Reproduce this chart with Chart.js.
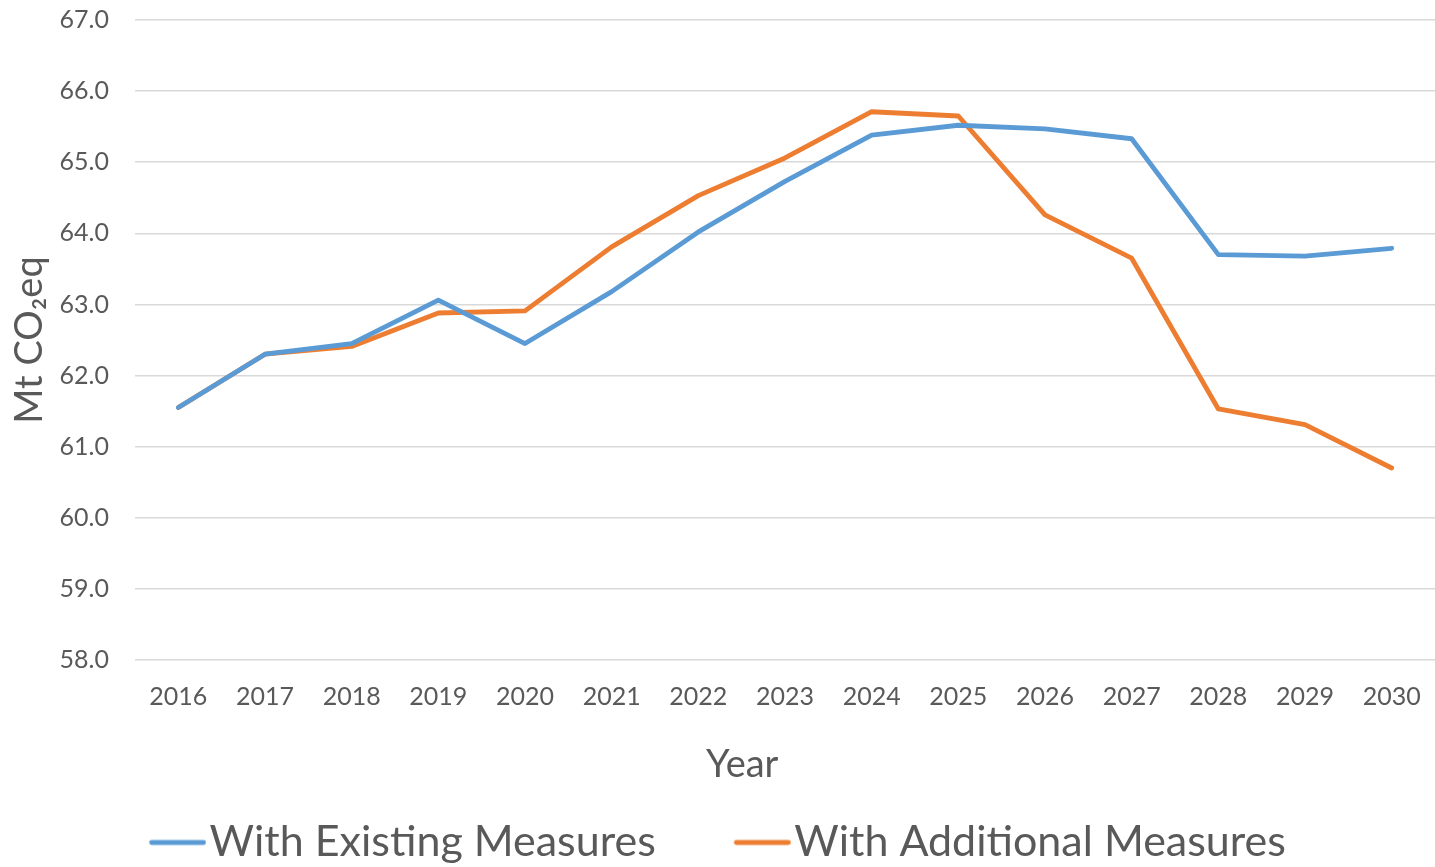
<!DOCTYPE html>
<html>
<head>
<meta charset="utf-8">
<script src="https://cdn.jsdelivr.net/npm/chart.js@4.4.1/dist/chart.umd.min.js"></script>
<style>
  html, body { margin: 0; padding: 0; background: #ffffff; }
  #wrap { width: 1435px; height: 867px; }
</style>
</head>
<body>
<div id="wrap"><canvas id="c" width="1435" height="867"></canvas></div>
<script>
// ---- data ----
const years = ['2016','2017','2018','2019','2020','2021','2022','2023','2024','2025','2026','2027','2028','2029','2030'];
const withExisting   = [61.55, 62.30, 62.45, 63.06, 62.45, 63.18, 64.02, 64.73, 65.38, 65.52, 65.47, 65.33, 63.70, 63.68, 63.79];
const withAdditional = [61.55, 62.30, 62.41, 62.88, 62.91, 63.81, 64.53, 65.06, 65.71, 65.65, 64.26, 63.65, 61.53, 61.31, 60.70];
const seriesNames = ['With Existing Measures', 'With Additional Measures'];
const seriesColors = ['#5b9bd5', '#ed7d31'];
const yMin = 58, yMax = 67, yStep = 1;
const xTitle = 'Year';
const yTitle = 'Mt CO\u2082eq';

const FONT = 'Lato, "Open Sans", "Noto Sans", sans-serif';
const TEXT = '#595959';
const LINE_W = 4.8;

// legend glyph: a short line, drawn into a small canvas used as point style
function legendGlyph(color) {
  const cv = document.createElement('canvas');
  cv.width = 75; cv.height = 8;
  const g = cv.getContext('2d');
  g.strokeStyle = color;
  g.lineWidth = LINE_W;
  g.lineCap = 'round';
  g.beginPath();
  g.moveTo(20.5, 4);
  g.lineTo(72.5, 4);
  g.stroke();
  return cv;
}
const glyphs = seriesColors.map(legendGlyph);

const LEG_FONT = 43, LEG_PAD = 78;

new Chart(document.getElementById('c'), {
  type: 'line',
  data: {
    labels: years,
    datasets: [
      { label: seriesNames[0], data: withExisting, borderColor: seriesColors[0], backgroundColor: seriesColors[0],
        borderWidth: LINE_W, pointRadius: 0, pointHoverRadius: 0, tension: 0, borderJoinStyle: 'round', borderCapStyle: 'round' },
      { label: seriesNames[1], data: withAdditional, borderColor: seriesColors[1], backgroundColor: seriesColors[1],
        borderWidth: LINE_W, pointRadius: 0, pointHoverRadius: 0, tension: 0, borderJoinStyle: 'round', borderCapStyle: 'round' }
    ]
  },
  options: {
    responsive: false,
    animation: false,
    devicePixelRatio: 1,
    layout: { padding: { top: 20, left: 0, right: 0, bottom: -7 } },
    plugins: {
      tooltip: { enabled: false },
      legend: {
        position: 'bottom',
        labels: {
          usePointStyle: true,
          pointStyleWidth: 39,
          padding: LEG_PAD,
          color: TEXT,
          font: { family: FONT, size: LEG_FONT },
          generateLabels(chart) {
            const items = Chart.defaults.plugins.legend.labels.generateLabels(chart);
            items.forEach((it) => { it.pointStyle = glyphs[it.datasetIndex]; });
            return items;
          }
        }
      }
    },
    scales: {
      x: {
        offset: true,
        border: { display: false },
        grid: { display: true, drawOnChartArea: false, drawTicks: true, tickLength: 22, tickColor: 'rgba(0,0,0,0)' },
        ticks: { color: TEXT, padding: 0, maxRotation: 0, font: { family: FONT, size: 25 } },
        title: { display: true, text: xTitle + '\u2003\u2003\u2003', color: TEXT, font: { family: FONT, size: 38, lineHeight: 1 }, padding: { top: 0, bottom: -41 } },
        afterFit(scale) { scale.height = 83; }
      },
      y: {
        min: yMin, max: yMax,
        border: { display: false },
        grid: { color: '#d9d9d9', lineWidth: 1.5, drawTicks: true, tickLength: 26, tickColor: 'rgba(0,0,0,0)' },
        ticks: { stepSize: yStep, color: TEXT, padding: 0, font: { family: FONT, size: 25 },
                 callback: (v) => Number(v).toFixed(1) },
        title: { display: true, text: yTitle, color: TEXT, font: { family: FONT, size: 38, lineHeight: 1 }, padding: { top: 11, bottom: 0 } },
        afterFit(scale) { scale.width = 135; }
      }
    }
  }
});
</script>
</body>
</html>
